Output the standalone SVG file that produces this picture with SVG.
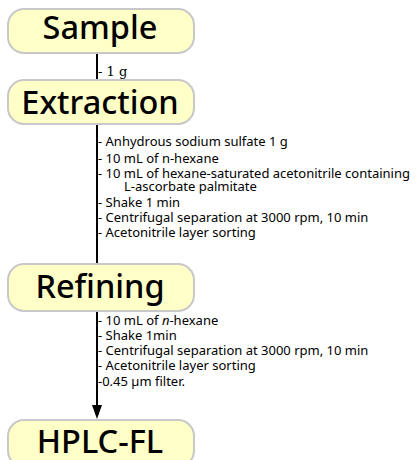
<svg xmlns="http://www.w3.org/2000/svg" width="417" height="460" viewBox="0 0 417 460">
<style>
.box{fill:#ffffc8;stroke:#c8c8c8;stroke-width:2}
.lbl{font-family:"Noto Sans","Open Sans",sans-serif;font-size:32.5px;font-weight:500;fill:#000;text-anchor:middle}
.t{font-family:"Noto Sans","Open Sans",sans-serif;font-size:13px;fill:#000}
.s{font-family:"DejaVu Serif","Liberation Serif",serif;font-size:13px;fill:#000}
.ln{stroke:#000;stroke-width:2;fill:none}
</style>
<g id="connectors">
<line class="ln" x1="97" y1="53" x2="97" y2="80"/>
<line class="ln" x1="97" y1="124" x2="97" y2="263"/>
<line class="ln" x1="97" y1="312" x2="97" y2="405"/>
<path d="M92,405 L102,405 L97,419 Z" fill="#000"/>
<text class="s" x="98" y="76">- 1 g</text>
<text class="t" x="98" y="146">- Anhydrous sodium sulfate 1 g</text>
<text class="t" x="98" y="163">- 10 mL of n-hexane</text>
<text class="t" x="98" y="178">- 10 mL of hexane-saturated acetonitrile containing</text>
<text class="t" x="124" y="191">L-ascorbate palmitate</text>
<text class="t" x="98" y="207">- Shake 1 min</text>
<text class="t" x="98" y="222">- Centrifugal separation at 3000 rpm, 10 min</text>
<text class="t" x="98" y="237">- Acetonitrile layer sorting</text>
<text class="t" x="98" y="325">- 10 mL of <tspan font-style="italic">n</tspan>-hexane</text>
<text class="t" x="98" y="340">- Shake 1min</text>
<text class="t" x="98" y="355">- Centrifugal separation at 3000 rpm, 10 min</text>
<text class="t" x="98" y="370">- Acetonitrile layer sorting</text>
<text class="t" x="98" y="386">-0.45 µm filter.</text>
</g>
<g id="sample">
<rect class="box" x="8" y="9" width="186" height="44" rx="16"/>
<text class="lbl" x="100" y="39">Sample</text>
</g>
<g id="extraction">
<rect class="box" x="8" y="80" width="186" height="44" rx="16"/>
<text class="lbl" x="100" y="114">Extraction</text>
</g>
<g id="refining">
<rect class="box" x="8" y="264" width="186" height="47" rx="16"/>
<text class="lbl" x="100" y="298">Refining</text>
</g>
<g id="hplc">
<rect class="box" x="8" y="420" width="186" height="47" rx="16"/>
<text class="lbl" x="100" y="453">HPLC-FL</text>
</g>
</svg>
